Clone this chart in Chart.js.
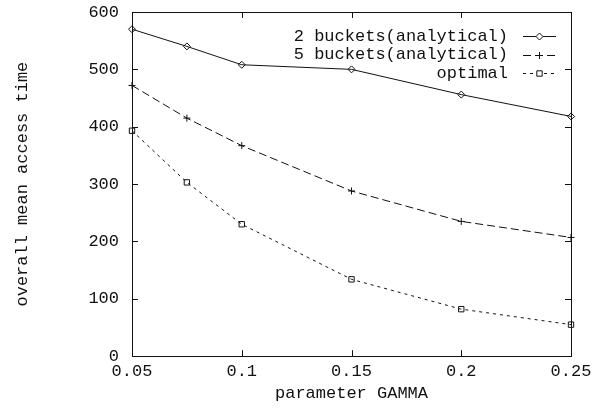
<!DOCTYPE html>
<html>
<head>
<meta charset="utf-8">
<script src="https://cdn.jsdelivr.net/npm/chart.js@4.4.1/dist/chart.umd.min.js"></script>
<style>
  body { margin: 0; background: #fff; }
  #wrap { width: 604px; height: 409px; position: relative; }
</style>
</head>
<body>
<div id="wrap"><canvas id="chart"></canvas></div>
<script>
// valores
var gamma = [0.05, 0.075, 0.1, 0.15, 0.2, 0.25];
var twoBuckets = [570, 540, 508, 500, 456, 418];
var fiveBuckets = [472, 415, 367, 288, 235, 207];
var optimal = [393, 303, 230, 134, 82, 55];
var xTicks = [0.05, 0.1, 0.15, 0.2, 0.25];
var yTicks = [0, 100, 200, 300, 400, 500, 600];
var seriesNames = ['2 buckets(analytical)', '5 buckets(analytical)', 'optimal'];

var FONT = '"Liberation Mono", "DejaVu Sans Mono", monospace';
var INK = '#111';

function pts(ys) {
    return gamma.map(function (g, i) { return { x: g, y: ys[i] }; });
}

// marco y marcas hacia adentro estilo gnuplot + leyenda a la derecha
var gnuFrame = {
    id: 'gnuFrame',
    afterDatasetsDraw: function (chart) {
        var ctx = chart.ctx, a = chart.chartArea;
        var xs = chart.scales.x, ys = chart.scales.y;
        var len = 6;
        ctx.save();
        ctx.strokeStyle = INK;
        ctx.lineWidth = 1;
        ctx.setLineDash([]);
        ctx.beginPath();
        xTicks.forEach(function (t) {
            var px = Math.round(xs.getPixelForValue(t)) + 0.5;
            ctx.moveTo(px, a.bottom); ctx.lineTo(px, a.bottom - len);
            ctx.moveTo(px, a.top); ctx.lineTo(px, a.top + len);
        });
        yTicks.forEach(function (t) {
            var py = Math.round(ys.getPixelForValue(t)) + 0.5;
            ctx.moveTo(a.left, py); ctx.lineTo(a.left + len, py);
            ctx.moveTo(a.right, py); ctx.lineTo(a.right - len, py);
        });
        ctx.stroke();
        ctx.strokeRect(Math.round(a.left) + 0.5, Math.round(a.top) + 0.5,
            Math.round(a.right - a.left), Math.round(a.bottom - a.top));

        // leyenda
        var textRight = a.right - 63;
        var lineL = a.right - 48, lineR = a.right - 15;
        ctx.font = '17px ' + FONT;
        ctx.textAlign = 'right';
        ctx.textBaseline = 'middle';
        chart.data.datasets.forEach(function (ds, i) {
            var y = a.top + 24 + i * 18.5;
            ctx.fillStyle = INK;
            ctx.fillText(ds.label, textRight, y);
            ctx.beginPath();
            ctx.setLineDash(ds.borderDash || []);
            ctx.moveTo(lineL, Math.round(y) + 0.5);
            ctx.lineTo(lineR, Math.round(y) + 0.5);
            ctx.stroke();
            ctx.setLineDash([]);
            ctx.fillStyle = '#fff';
            Chart.helpers.drawPoint(ctx, {
                pointStyle: ds.pointStyle, radius: ds.pointRadius,
                rotation: 0, borderWidth: 1
            }, (lineL + lineR) / 2, Math.round(y) + 0.5);
        });
        ctx.restore();
    }
};

var common = {
    borderColor: INK, backgroundColor: 'rgba(0,0,0,0)',
    borderWidth: 1, pointBorderWidth: 1, tension: 0, clip: false,
    pointBackgroundColor: 'rgba(0,0,0,0)', pointBorderColor: INK
};

new Chart(document.getElementById('chart'), {
    type: 'line',
    data: {
        datasets: [
            Object.assign({ label: seriesNames[0], data: pts(twoBuckets), pointStyle: 'rectRot', pointRadius: 3.5 }, common),
            Object.assign({ label: seriesNames[1], data: pts(fiveBuckets), pointStyle: 'cross', pointRadius: 3.5, borderDash: [8, 4] }, common),
            Object.assign({ label: seriesNames[2], data: pts(optimal), pointStyle: 'rect', pointRadius: 3.8, borderDash: [3, 4] }, common)
        ]
    },
    options: {
        responsive: true,
        maintainAspectRatio: false,
        animation: false,
        layout: { padding: { top: 12, right: 33, left: 12, bottom: 2 } },
        plugins: { legend: { display: false }, tooltip: { enabled: false } },
        scales: {
            x: {
                type: 'linear', min: 0.05, max: 0.25,
                afterBuildTicks: function (s) { s.ticks = xTicks.map(function (v) { return { value: v }; }); },
                afterFit: function (s) { s.paddingLeft = 0; s.paddingRight = 0; },
                grid: { display: false, drawTicks: false },
                border: { display: false },
                ticks: { color: INK, font: { family: FONT, size: 17 }, padding: 5, maxRotation: 0,
                    callback: function (v) { return String(v); } },
                title: { display: true, text: 'parameter GAMMA', color: INK,
                    font: { family: FONT, size: 17 }, padding: { top: -3, bottom: 3 } }
            },
            y: {
                type: 'linear', min: 0, max: 600,
                afterBuildTicks: function (s) { s.ticks = yTicks.map(function (v) { return { value: v }; }); },
                afterFit: function (s) { s.paddingTop = 0; s.paddingBottom = 0; },
                grid: { display: false, drawTicks: false },
                border: { display: false },
                ticks: { color: INK, font: { family: FONT, size: 17 }, padding: 13 },
                title: { display: true, text: 'overall mean access time', color: INK,
                    font: { family: FONT, size: 17 }, padding: { top: 0, bottom: 43 } }
            }
        }
    },
    plugins: [gnuFrame]
});
</script>
</body>
</html>
